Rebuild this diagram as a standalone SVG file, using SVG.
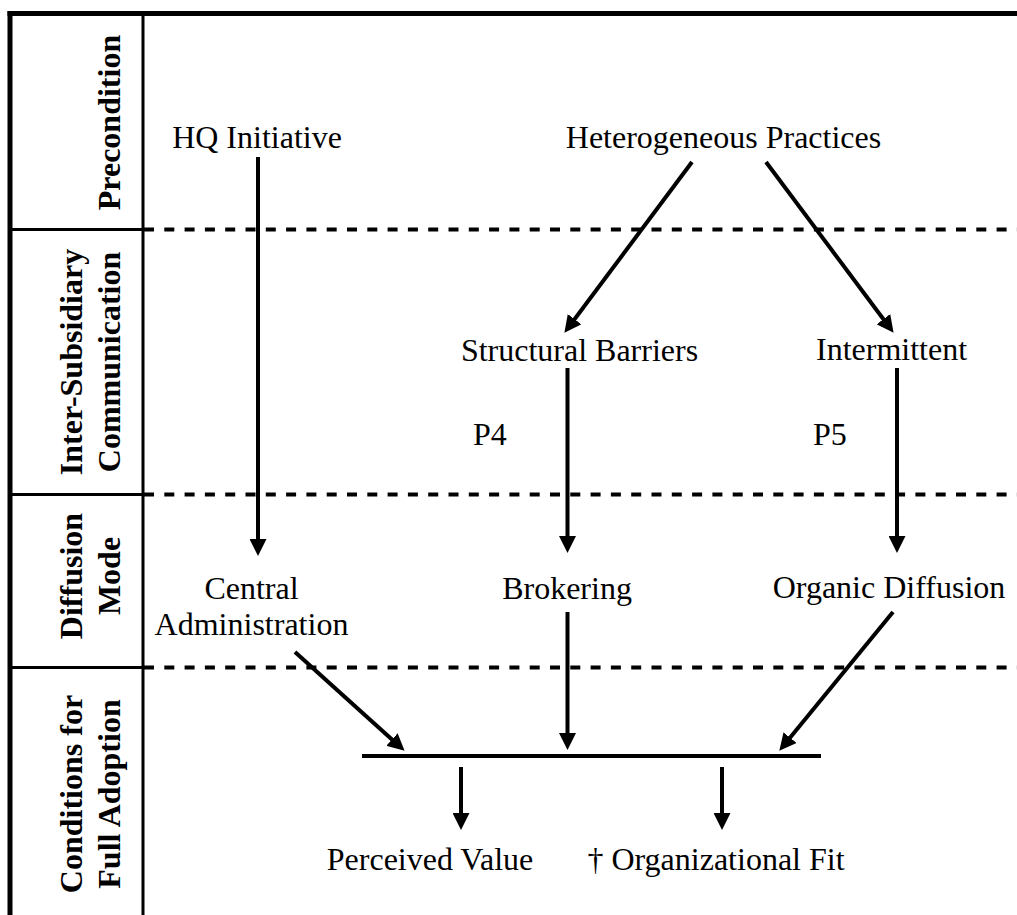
<svg xmlns="http://www.w3.org/2000/svg" width="1017" height="915" viewBox="0 0 1017 915">
<style>
text{font-family:"Liberation Serif","Times New Roman",serif;font-size:32px;fill:#000}
.lbl{text-anchor:middle}
.hdr{font-weight:bold;text-anchor:middle}
.frame{stroke:#000;fill:none}
.dash{stroke:#000;stroke-width:4;stroke-dasharray:10 10.3;fill:none}
.arr{stroke:#000;stroke-width:4;fill:none;marker-end:url(#ah)}
</style>
<defs>
<marker id="ah" markerUnits="userSpaceOnUse" markerWidth="17" markerHeight="17" viewBox="0 0 17 17" refX="6" refY="8.5" orient="auto">
<path d="M0,0 L17,8.5 L0,17 z" fill="#000"/>
</marker>
</defs>
<rect width="1017" height="915" fill="#fff"/>
<g id="frame">
<line class="frame" x1="7.5" y1="13.5" x2="1017" y2="13.5" stroke-width="5"/>
<line class="frame" x1="10" y1="11" x2="10" y2="915" stroke-width="5"/>
<line class="frame" x1="143" y1="14" x2="143" y2="915" stroke-width="3"/>
<line class="frame" x1="10" y1="229.5" x2="143" y2="229.5" stroke-width="3"/>
<line class="frame" x1="10" y1="494.5" x2="143" y2="494.5" stroke-width="3"/>
<line class="frame" x1="10" y1="667.5" x2="143" y2="667.5" stroke-width="3"/>
<line class="dash" x1="144" y1="229.5" x2="1017" y2="229.5"/>
<line class="dash" x1="144" y1="494.5" x2="1017" y2="494.5"/>
<line class="dash" x1="144" y1="667.5" x2="1017" y2="667.5"/>
</g>
<g id="headers">
<text class="hdr" transform="translate(120,122.5) rotate(-90)">Precondition</text>
<text class="hdr" transform="translate(82,362) rotate(-90)">Inter-Subsidiary</text>
<text class="hdr" transform="translate(120,362) rotate(-90)">Communication</text>
<text class="hdr" transform="translate(82,576) rotate(-90)">Diffusion</text>
<text class="hdr" transform="translate(120,576) rotate(-90)">Mode</text>
<text class="hdr" transform="translate(82,794) rotate(-90)">Conditions for</text>
<text class="hdr" transform="translate(120,794) rotate(-90)">Full Adoption</text>
</g>
<g id="hq"><text class="lbl" x="257" y="148">HQ Initiative</text></g>
<g id="hetero"><text class="lbl" x="723.5" y="148">Heterogeneous Practices</text></g>
<g id="structural"><text class="lbl" x="579.5" y="361">Structural Barriers</text></g>
<g id="intermittent"><text class="lbl" x="891.5" y="360">Intermittent</text></g>
<g id="central"><text class="lbl" x="251.5" y="599">Central</text><text class="lbl" x="251.5" y="635">Administration</text></g>
<g id="brokering"><text class="lbl" x="567" y="599">Brokering</text></g>
<g id="organic"><text class="lbl" x="889" y="598">Organic Diffusion</text></g>
<g id="value"><text class="lbl" x="430" y="870">Perceived Value</text></g>
<g id="fit"><text class="lbl" x="716" y="870">† Organizational Fit</text></g>
<g id="bar"><line x1="362" y1="756" x2="821" y2="756" stroke="#000" stroke-width="4"/></g>
<g id="connectors">
<line class="arr" x1="258" y1="157" x2="258" y2="545"/>
<line class="arr" x1="692" y1="162" x2="571" y2="324"/>
<line class="arr" x1="766" y1="162" x2="887" y2="324"/>
<line class="arr" x1="567.5" y1="368" x2="567.5" y2="542"/>
<line class="arr" x1="897" y1="368" x2="897" y2="542"/>
<line class="arr" x1="295" y1="652" x2="396.4" y2="743.5"/>
<line class="arr" x1="567.5" y1="612" x2="567.5" y2="739"/>
<line class="arr" x1="893" y1="612" x2="786.3" y2="742.3"/>
<line class="arr" x1="461" y1="767" x2="461" y2="819"/>
<line class="arr" x1="722" y1="767" x2="722" y2="819"/>
<text x="473" y="445">P4</text>
<text x="813" y="445">P5</text>
</g>
</svg>
